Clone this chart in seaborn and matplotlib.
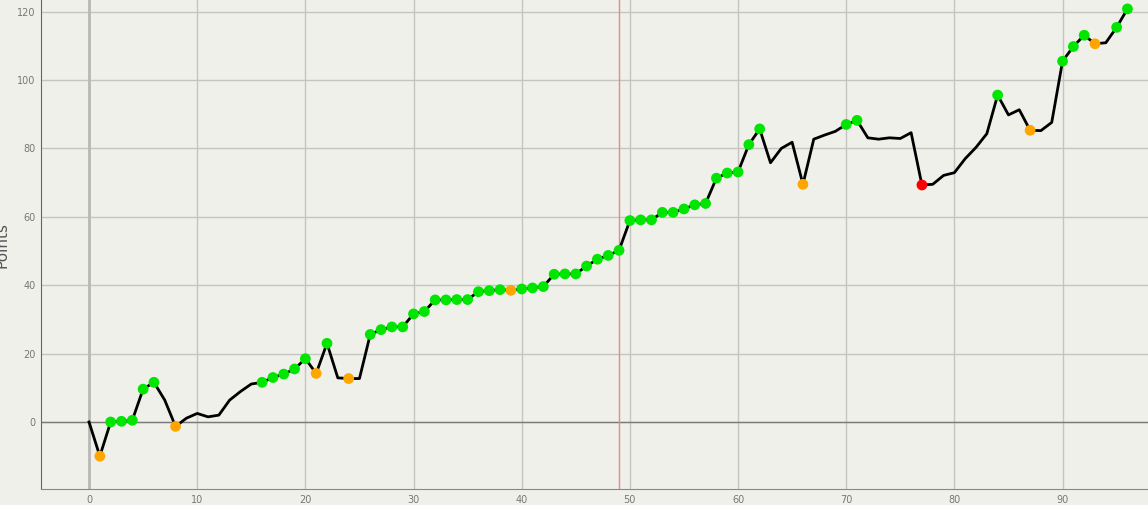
import numpy as np
import pandas as pd
import matplotlib
matplotlib.use("Agg")
import matplotlib.pyplot as plt
import seaborn as sns

# Data
games = list(range(97))
points = [0, -10, 0, 0.2, 0.5, 9.6, 11.6, 6.4, -1.3, 1.1,
          2.5, 1.5, 2.0, 6.4, 8.9, 11.1, 11.6, 13.0, 14.0, 15.5,
          18.5, 14.2, 23.0, 12.9, 12.7, 12.7, 25.6, 27.0, 27.8, 27.8,
          31.6, 32.3, 35.7, 35.7, 35.8, 35.8, 38.1, 38.4, 38.7, 38.5,
          38.9, 39.2, 39.6, 43.2, 43.3, 43.3, 45.6, 47.6, 48.7, 50.2,
          58.9, 59.1, 59.1, 61.3, 61.3, 62.3, 63.5, 63.9, 71.3, 72.8,
          73.1, 81.1, 85.7, 75.8, 80.0, 81.8, 69.5, 82.7, 83.9, 85.0,
          87.0, 88.2, 83.1, 82.7, 83.1, 82.9, 84.6, 69.3, 69.5, 72.1,
          72.9, 77.0, 80.3, 84.3, 95.6, 89.8, 91.3, 85.3, 85.2, 87.6,
          105.5, 109.8, 113.1, 110.6, 110.9, 115.4, 120.8]
green_idx = [2, 3, 4, 5, 6, 16, 17, 18, 19, 20, 22] + list(range(26, 39)) + \
            list(range(40, 63)) + [70, 71, 84, 90, 91, 92, 95, 96]
orange_idx = [1, 8, 21, 24, 39, 66, 87, 93]
red_idx = [77]
marker_x = 49

status = [""] * len(games)
for i in green_idx:
    status[i] = "green"
for i in orange_idx:
    status[i] = "orange"
for i in red_idx:
    status[i] = "red"

df = pd.DataFrame({"game": games, "points": points, "status": status})
mk = df[df["status"] != ""]

bg = "#f0f0eb"
fig = plt.figure(figsize=(11.48, 5.05), dpi=100, facecolor=bg)
ax = fig.add_axes([41 / 1148, 16 / 505, 1 - 41 / 1148, 1 - 16 / 505])
ax.set_facecolor(bg)

ax.set_xlim(-4.44, 97.9)
ax.set_ylim(-19.6, 123.4)
ax.set_xticks(range(0, 100, 10))
ax.set_yticks(range(0, 121, 20))
ax.grid(True, color="#c4c4c0", linewidth=1.0)
ax.set_axisbelow(True)
ax.axvline(0, color="#b8b8b4", linewidth=2.0, zorder=1)
ax.axhline(0, color="#7a7a7a", linewidth=1.0, zorder=1)
ax.axvline(marker_x, color="#e88888", linewidth=1.0, zorder=1)

sns.lineplot(data=df, x="game", y="points", color="black", linewidth=2.0,
             ax=ax, zorder=3)
sns.scatterplot(data=mk, x="game", y="points", hue="status",
                palette={"green": "#00e600", "orange": "#ffa500", "red": "#ff0000"},
                s=60, edgecolor="none", linewidth=0, ax=ax, zorder=4, legend=False)

for s in ["top", "right"]:
    ax.spines[s].set_visible(False)
ax.spines["left"].set_color("#666666")
ax.spines["bottom"].set_color("#888888")
ax.tick_params(axis="both", length=0, labelsize=7, labelcolor="#777777", pad=4)
ax.set_xlabel("")
ax.set_ylabel("Points", fontsize=11, color="#555555", labelpad=5)

fig.savefig("out.png", dpi=100, facecolor=bg)
